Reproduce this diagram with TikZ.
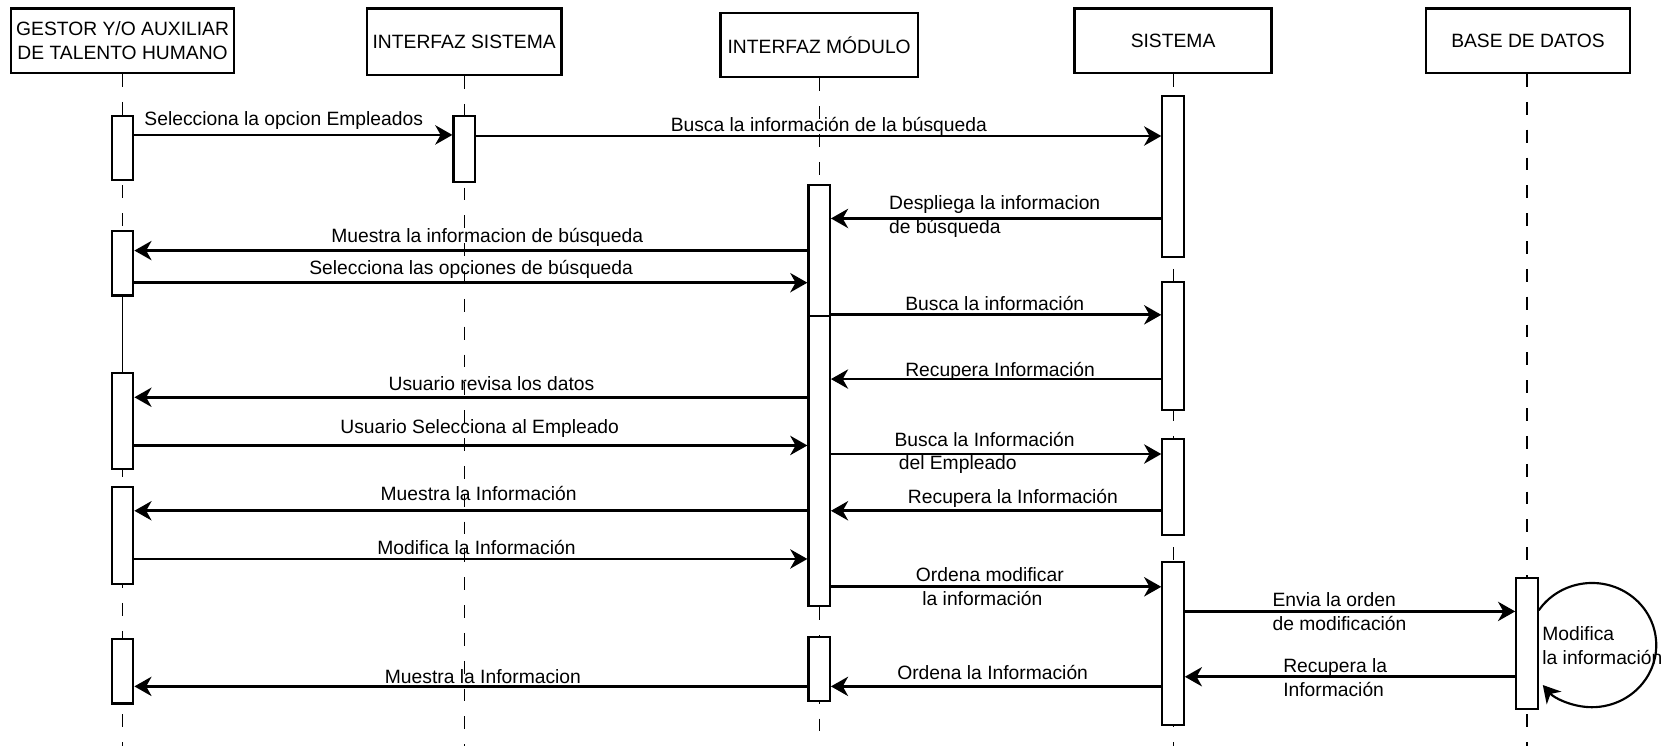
\documentclass[tikz,border=0pt]{standalone}
\usepackage{fontspec}
\setmainfont{Liberation Sans}
\usetikzlibrary{positioning}
\usetikzlibrary{arrows.meta}
\pgfdeclarelayer{nodelayer}
\pgfdeclarelayer{edgelayer}
\pgfsetlayers{nodelayer,edgelayer,main}

\begin{document}
\begin{tikzpicture}[x=0.5pt, y=-0.5pt, font=\fontsize{9}{11}\selectfont,
  head/.style={draw, line width=1.1pt, fill=white, align=center, minimum height=30pt, inner sep=2pt},
  bar/.style={draw, line width=1pt, fill=white, minimum width=10pt, inner sep=0pt},
  life/.style={line width=0.5pt, dash pattern=on 6pt off 7pt},
  msg/.style={line width=1.25pt, -{Stealth[length=8pt, width=9pt, inset=2.5pt]}},
  txt/.style={inner sep=0pt, align=left}]
  \useasboundingbox (0,0) rectangle (1568,697);
  \begin{pgfonlayer}{nodelayer}
    \node [head, minimum width=104pt] (0) at (114.5, 38) {GESTOR Y/O AUXILIAR\\DE TALENTO HUMANO};
    \node [head, minimum width=91pt, minimum height=31pt] (1) at (433.5, 39) {INTERFAZ SISTEMA};
    \node [head, minimum width=92pt] (2) at (765, 42) {INTERFAZ MÓDULO};
    \node [head, minimum width=92pt] (3) at (1095.5, 38) {SISTEMA};
    \node [head, minimum width=95pt] (4) at (1427, 38) {BASE DE DATOS};
    \coordinate (5) at (114.5, 697);
    \coordinate (6) at (433.5, 697);
    \coordinate (7) at (765, 697);
    \coordinate (8) at (1095.5, 697);
    \coordinate (9) at (1426, 697);
    \draw [life] (0) -- (5);
    \draw [life] (1) -- (6);
    \draw [life] (2) -- (7);
    \draw [life] (3) -- (8);
    \draw [life] (4.south -| 9) -- (9);
    % activaciones
    \node [bar, minimum height=30pt] (10) at (114.5, 138) {};
    \node [bar, minimum height=30pt] (11) at (114.5, 246) {};
    \node [bar, minimum height=45pt] (12) at (114.5, 393) {};
    \node [bar, minimum height=45pt] (13) at (114.5, 500) {};
    \node [bar, minimum height=30pt] (14) at (114.5, 627) {};
    \node [bar, minimum height=31pt] (15) at (433.5, 139) {};
    \node [bar, minimum height=61pt] (16) at (765, 234) {};
    \node [bar, minimum height=135.5pt] (17) at (765, 430.5) {};
    \node [bar, minimum height=30pt] (18) at (765, 625) {};
    \node [bar, minimum height=75pt] (19) at (1095.5, 165) {};
    \node [bar, minimum height=60pt] (20) at (1095.5, 323) {};
    \node [bar, minimum height=45pt] (21) at (1095.5, 455) {};
    \node [bar, minimum height=76pt] (22) at (1095.5, 601) {};
    \node [bar, minimum height=61pt] (23) at (1426, 601) {};
    \draw [line width=0.5pt] (11) -- (12);
    % mensajes
    \node [txt] (30) at (265, 113) {Selecciona la opcion Empleados};
    \node [txt] (31) at (774, 118) {Busca la información de la búsqueda};
    \node [txt, anchor=west] (32) at (830, 202) {Despliega la informacion\\de búsqueda};
    \node [txt] (33) at (455, 222) {Muestra la informacion de búsqueda};
    \node [txt] (34) at (440, 252) {Selecciona las opciones de búsqueda};
    \node [txt] (35) at (929, 283) {Busca la información};
    \node [txt] (36) at (934, 347) {Recupera Información};
    \node [txt] (37) at (459, 358) {Usuario revisa los datos};
    \node [txt] (38) at (448, 400) {Usuario Selecciona al Empleado};
    \node [txt, anchor=west] (39) at (835, 423) {Busca la Información\\\hspace*{2pt}del Empleado};
    \node [txt] (40) at (946, 465) {Recupera la Información};
    \node [txt] (41) at (447, 461) {Muestra la Información};
    \node [txt] (42) at (445, 511) {Modifica la Información};
    \node [txt, anchor=west] (43) at (855, 548) {Ordena modificar\\\hspace*{3pt}la información};
    \node [txt, anchor=west] (44) at (1188, 571) {Envia la orden\\de modificación};
    \node [txt, anchor=west] (45) at (1198, 633) {Recupera la\\Información};
    \node [txt] (46) at (927, 628) {Ordena la Información};
    \node [txt] (47) at (451, 632) {Muestra la Informacion};
    \node [txt, anchor=west] (48) at (1440, 603) {Modifica\\la información};
  \end{pgfonlayer}
  \begin{pgfonlayer}{edgelayer}
    \draw [msg] (10.east |- 0,126) -- (15.west |- 0,126);
    \draw [msg] (15.east |- 0,127) -- (19.west |- 0,127);
    \draw [msg] (19.west |- 0,204) -- (16.east |- 0,204);
    \draw [msg] (16.west |- 0,234) -- (11.east |- 0,234);
    \draw [msg] (11.east |- 0,264) -- (16.west |- 0,264);
    \draw [msg] (17.east |- 0,294) -- (20.west |- 0,294);
    \draw [msg] (20.west |- 0,354) -- (17.east |- 0,354);
    \draw [msg] (17.west |- 0,371) -- (12.east |- 0,371);
    \draw [msg] (12.east |- 0,416) -- (17.west |- 0,416);
    \draw [msg] (17.east |- 0,424) -- (21.west |- 0,424);
    \draw [msg] (21.west |- 0,477) -- (17.east |- 0,477);
    \draw [msg] (17.west |- 0,477) -- (13.east |- 0,477);
    \draw [msg] (13.east |- 0,522) -- (17.west |- 0,522);
    \draw [msg] (17.east |- 0,548) -- (22.west |- 0,548);
    \draw [msg] (22.east |- 0,571) -- (23.west |- 0,571);
    \draw [msg] (23.west |- 0,632) -- (22.east |- 0,632);
    \draw [msg] (22.west |- 0,641) -- (18.east |- 0,641);
    \draw [msg] (18.west |- 0,641) -- (14.east |- 0,641);
    \draw [msg, line width=1pt] (23.east |- 0,570) arc [start angle=146, end angle=-140, x radius=30pt, y radius=29pt];
  \end{pgfonlayer}
\end{tikzpicture}
\end{document}
